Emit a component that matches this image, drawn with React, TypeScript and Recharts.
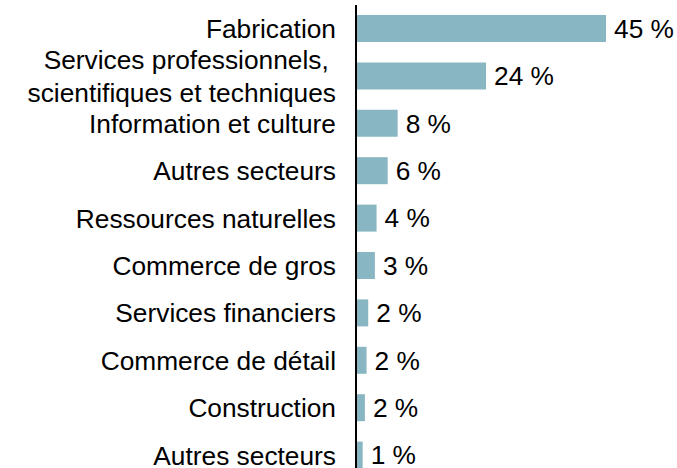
import { BarChart, Bar, XAxis, YAxis, LabelList } from "recharts";

const categories = [
  "Fabrication",
  "Services professionnels, \nscientifiques et techniques",
  "Information et culture",
  "Autres secteurs",
  "Ressources naturelles",
  "Commerce de gros",
  "Services financiers",
  "Commerce de détail",
  "Construction",
  "Autres secteurs",
];
const shares = [45, 23.4, 7.5, 5.7, 3.7, 3.4, 2.2, 1.9, 1.6, 1.2];
const shareLabels = ["45 %", "24 %", "8 %", "6 %", "4 %", "3 %", "2 %", "2 %", "2 %", "1 %"];

const data = categories.map((name, i) => ({ idx: i, name, value: shares[i], label: shareLabels[i] }));

const FONT = "'Liberation Sans', Arial, sans-serif";

function CategoryTick({ x, y, payload }: any) {
  const lines = categories[payload.value].split("\n");
  const step = 33;
  const start = y - ((lines.length - 1) * step) / 2;
  return (
    <text x={x} y={y} textAnchor="end" fontSize={26.3} fill="#000" fontFamily={FONT}>
      {lines.map((l, i) => (
        <tspan key={i} x={x} y={start + i * step} dy="0.35em" style={{ whiteSpace: "pre" }}>
          {l}
        </tspan>
      ))}
    </text>
  );
}

export default function App() {
  return (
    <div style={{ position: "absolute", left: 0, top: 0, width: 677, height: 468, overflow: "hidden", background: "#fff", fontFamily: FONT }}>
      <BarChart
        width={677}
        height={489}
        data={data}
        layout="vertical"
        margin={{ top: 5, right: 71, bottom: 10, left: 0 }}
      >
        <XAxis type="number" domain={[0, 45]} hide />
        <YAxis
          type="category"
          dataKey="idx"
          width={356}
          tickLine={false}
          tickSize={0}
          tickMargin={20}
          axisLine={{ stroke: "#000", strokeWidth: 2 }}
          tick={<CategoryTick />}
          interval={0}
        />
        <Bar dataKey="value" fill="#88b6c2" barSize={27} isAnimationActive={false}>
          <LabelList dataKey="label" position="right" offset={8} fill="#000" fontSize={26.3} fontFamily={FONT} />
        </Bar>
      </BarChart>
    </div>
  );
}
